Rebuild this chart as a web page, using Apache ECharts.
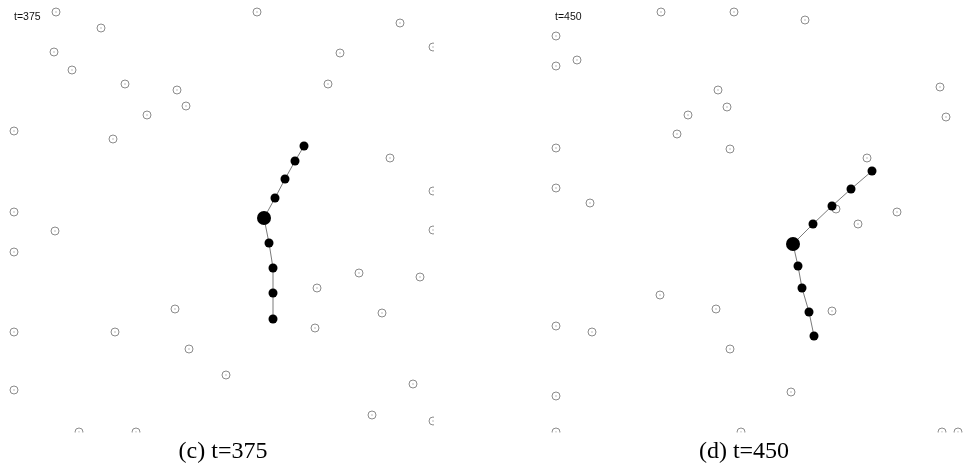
<!DOCTYPE html>
<html>
<head>
<meta charset="utf-8">
<script src="https://cdn.jsdelivr.net/npm/echarts@6/dist/echarts.min.js"></script>
<style>
  html, body { margin: 0; padding: 0; background: #fff; }
  #chart { width: 968px; height: 465px; }
</style>
</head>
<body>
<div id="chart"></div>
<script>
// panel-local coordinates, y grows downward
const panelLabels = ['t=375', 't=450'];
const captions = ['(c) t=375', '(d) t=450'];

// open (idle) nodes
const nodesC = [
  [56, 12], [257, 12], [101, 28], [400, 23], [54, 52], [340, 53], [433, 47],
  [72, 70], [328, 84], [125, 84], [177, 90], [186, 106], [147, 115], [14, 131],
  [113, 139], [390, 158], [433, 191], [14, 212], [55, 231], [433, 230],
  [14, 252], [359, 273], [420, 277], [317, 288], [382, 313], [175, 309],
  [315, 328], [14, 332], [115, 332], [189, 349], [226, 375], [14, 390],
  [413, 384], [372, 415], [433, 421], [79, 432], [136, 432]
];
const nodesD = [
  [120, 12], [193, 12], [264, 20], [15, 36], [36, 60], [15, 66], [177, 90],
  [186, 107], [399, 87], [405, 117], [147, 115], [136, 134], [15, 148],
  [189, 149], [326, 158], [15, 188], [49, 203], [295, 209], [356, 212],
  [317, 224], [119, 295], [175, 309], [291, 311], [15, 326], [51, 332],
  [189, 349], [250, 392], [15, 396], [15, 432], [200, 432], [401, 432], [417, 432]
];

// chain of active nodes, head (big dot) index given separately
const chainC = [[304, 146], [295, 161], [285, 179], [275, 198], [264, 218], [269, 243], [273, 268], [273, 293], [273, 319]];
const chainD = [[331, 171], [310, 189], [291, 206], [272, 224], [252, 244], [257, 266], [261, 288], [268, 312], [273, 336]];
const headIndex = [4, 4];

const panels = [
  { nodes: nodesC, chain: chainC },
  { nodes: nodesD, chain: chainD }
];

const PANEL_H = 432;
const panelLeft = [0, 541];
// second panel runs off the right edge of the figure
const panelW = [434, 968 - 541];

const chart = echarts.init(document.getElementById('chart'), null, { renderer: 'canvas' });

const grid = panelLeft.map((l, i) => ({ left: l, top: 0, width: panelW[i], height: PANEL_H }));
const xAxis = panelLeft.map((l, i) => ({ type: 'value', gridIndex: i, min: 0, max: panelW[i], show: false }));
const yAxis = panelLeft.map((l, i) => ({ type: 'value', gridIndex: i, min: 0, max: PANEL_H, inverse: true, show: false }));

const series = [];
panels.forEach((p, i) => {
  series.push({
    type: 'scatter',
    xAxisIndex: i,
    yAxisIndex: i,
    data: p.nodes,
    symbol: 'circle',
    symbolSize: 8,
    itemStyle: { color: '#fff', borderColor: '#8c8c8c', borderWidth: 1, opacity: 1 },
    z: 2
  });
  // tiny centre mark of each node
  series.push({
    type: 'scatter',
    xAxisIndex: i,
    yAxisIndex: i,
    data: p.nodes,
    symbol: 'circle',
    symbolSize: 1.5,
    itemStyle: { color: '#9a9a9a' },
    z: 3
  });
  series.push({
    type: 'line',
    xAxisIndex: i,
    yAxisIndex: i,
    data: p.chain,
    symbol: 'circle',
    symbolSize: (val, params) => params.dataIndex === headIndex[i] ? 14 : 9,
    showAllSymbol: true,
    lineStyle: { color: '#7a7a7a', width: 1 },
    itemStyle: { color: '#000', borderWidth: 0 },
    z: 5
  });
});

const graphic = [
  // masks: panels are cut at their frame edge
  { type: 'rect', shape: { x: panelW[0], y: 0, width: panelLeft[1] - panelW[0], height: 440 }, style: { fill: '#fff' }, z: 100 },
  { type: 'rect', shape: { x: 0, y: PANEL_H + 0.5, width: 968, height: 6 }, style: { fill: '#fff' }, z: 100 }
];
panelLabels.forEach((t, i) => {
  graphic.push({
    type: 'text', x: panelLeft[i] + 14, y: 17, z: 110,
    style: { text: t, font: '10.5px "Liberation Sans", Arial, sans-serif', fill: '#111',
      align: 'left', verticalAlign: 'middle', textAlign: 'left', textVerticalAlign: 'middle' }
  });
});
const captionX = [223, 744];
captions.forEach((t, i) => {
  graphic.push({
    type: 'text', x: captionX[i], y: 452, z: 110,
    style: { text: t, font: '24px "Liberation Serif", "Times New Roman", serif', fill: '#000',
      align: 'center', verticalAlign: 'middle', textAlign: 'center', textVerticalAlign: 'middle' }
  });
});

chart.setOption({
  animation: false,
  backgroundColor: '#fff',
  grid,
  xAxis,
  yAxis,
  series,
  graphic
});
</script>
</body>
</html>
